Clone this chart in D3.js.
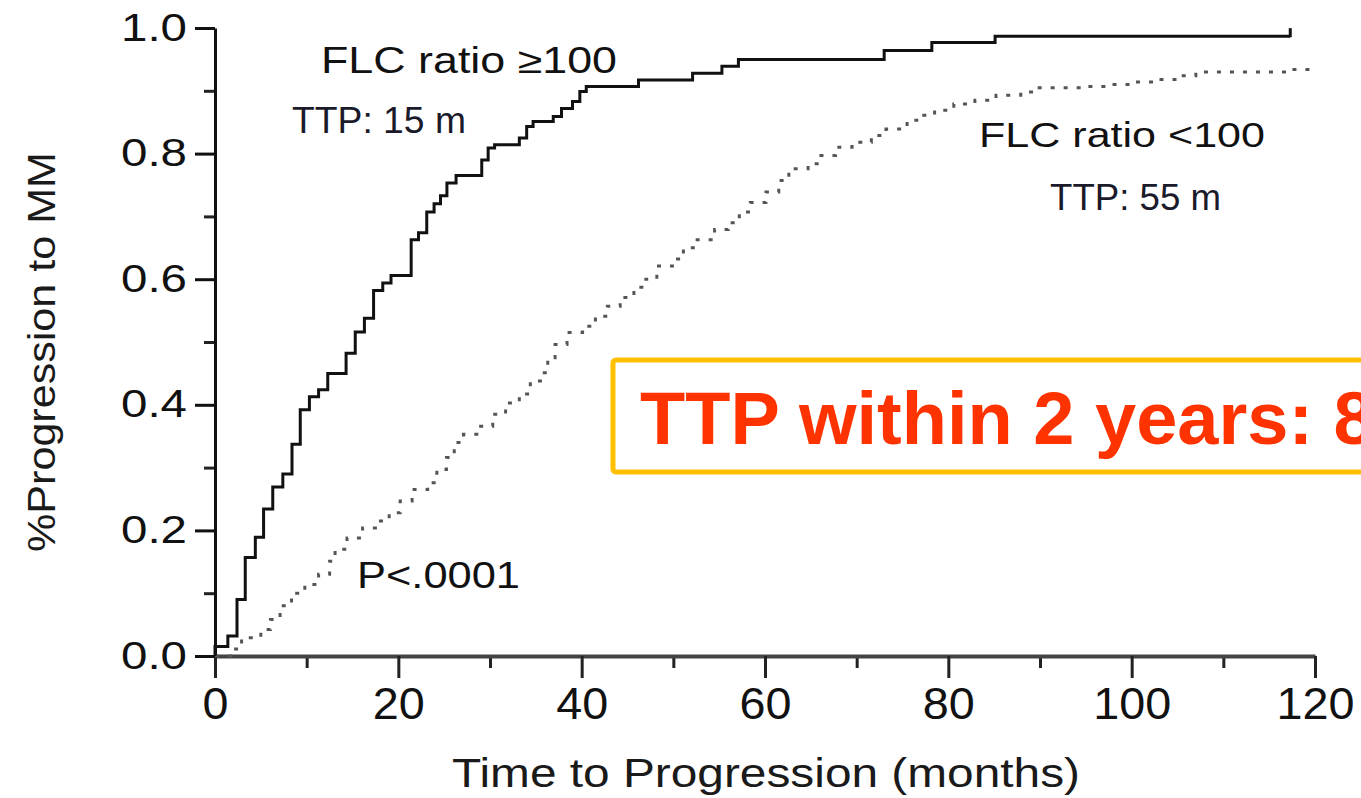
<!DOCTYPE html>
<html>
<head>
<meta charset="utf-8">
<script src="https://cdn.jsdelivr.net/npm/d3@7"></script>
<style>
  body { margin: 0; background: #fff; }
  text { font-family: "Liberation Sans", Arial, sans-serif; }
</style>
</head>
<body>
<svg id="chart" width="1361" height="798"></svg>
<script>
// FLC ratio >= 100 (solid step curve)
const highTimes = [0, 1.4, 2.4, 3.3, 4.4, 5.3, 6.3, 7.4, 8.4, 9.3, 10.3, 11.3, 12.3, 14.3, 15.3, 16.3, 17.3, 18.3, 19.2,
  21.4, 22.2, 23.1, 23.9, 24.6, 25.3, 26.3, 29.1, 29.8, 30.5, 33.2, 34.0, 34.7, 36.9, 37.8, 39.0, 39.8, 40.5,
  46.2, 52.1, 55.3, 57.1, 73.0, 78.2, 85.1, 117.3];
const highProg = [0.015, 0.032, 0.09, 0.157, 0.189, 0.234, 0.269, 0.29, 0.337, 0.392, 0.413, 0.424, 0.45, 0.482, 0.516, 0.538, 0.582, 0.594, 0.606,
  0.663, 0.674, 0.707, 0.72, 0.733, 0.753, 0.765, 0.79, 0.809, 0.814, 0.825, 0.843, 0.851, 0.859, 0.872, 0.883, 0.899, 0.907,
  0.917, 0.928, 0.939, 0.95, 0.964, 0.977, 0.987, 0.987];
const highCensor = [117.3];

// FLC ratio < 100 (dotted step curve)
const lowTimes = [0, 1.9, 2.9, 5.0, 6.05, 7.1, 8.35, 9.8, 11.3, 12.5, 13.1, 14.4, 16.1, 17.5, 19.0, 20.2, 21.5, 23.2, 24.2,
  25.25, 26.1, 27.1, 28.8, 30.3, 31.7, 33.2, 34.4, 35.7, 36.3, 37.1, 38.4, 40.1, 41.5, 42.8, 44.2, 45.7, 47.0, 48.2,
  49.9, 51.1, 52.6, 54.5, 56.0, 57.2, 58.4, 60.1, 61.5, 62.6, 64.7, 66.1, 67.7, 69.5, 71.6, 73.2, 75.5, 76.9, 78.5,
  80.6, 82.9, 85.2, 87.9, 89.7, 94.8, 97.4, 99.9, 102.4, 105.0, 107.0, 117.4, 120];
const lowProg = [0, 0.011, 0.029, 0.042, 0.058, 0.08, 0.10, 0.114, 0.13, 0.151, 0.17, 0.188, 0.204, 0.215, 0.228, 0.247, 0.265, 0.276, 0.297,
  0.316, 0.34, 0.353, 0.366, 0.385, 0.403, 0.417, 0.438, 0.451, 0.475, 0.496, 0.515, 0.525, 0.541, 0.557, 0.571, 0.587, 0.60, 0.621,
  0.632, 0.65, 0.663, 0.679, 0.69, 0.707, 0.722, 0.739, 0.757, 0.776, 0.784, 0.797, 0.81, 0.818, 0.829, 0.839, 0.853, 0.861, 0.869,
  0.879, 0.885, 0.893, 0.898, 0.905, 0.907, 0.91, 0.914, 0.918, 0.924, 0.93, 0.934, 0.935];

const xTicks = [0, 20, 40, 60, 80, 100, 120];
const xMinor = [10, 30, 50, 70, 90, 110];
const yTicks = [0, 0.2, 0.4, 0.6, 0.8, 1.0];
const yMinor = [0.1, 0.3, 0.5, 0.7, 0.9];

const svg = d3.select('#chart');
svg.append('rect').attr('width', 1361).attr('height', 798).attr('fill', '#fff');

const x = d3.scaleLinear().domain([0, 120]).range([215, 1315]);
const y = d3.scaleLinear().domain([0, 1]).range([656, 28]);

// minor ticks
svg.append('g')
  .attr('transform', 'translate(0,656)')
  .call(d3.axisBottom(x).tickValues(xMinor).tickSize(12).tickFormat(''))
  .call(g => g.select('.domain').remove())
  .call(g => g.selectAll('line').attr('stroke', '#222').attr('stroke-width', 3));

svg.append('g')
  .attr('transform', 'translate(215,0)')
  .call(d3.axisLeft(y).tickValues(yMinor).tickSize(11).tickFormat(''))
  .call(g => g.select('.domain').remove())
  .call(g => g.selectAll('line').attr('stroke', '#222').attr('stroke-width', 3));

// x axis
const xAxis = svg.append('g')
  .attr('transform', 'translate(0,656)')
  .call(d3.axisBottom(x).tickValues(xTicks).tickSize(22).tickSizeOuter(0).tickPadding(10).tickFormat(d3.format('d')));
xAxis.select('.domain').attr('stroke', '#444').attr('stroke-width', 4);
xAxis.selectAll('line').attr('stroke', '#222').attr('stroke-width', 3);
xAxis.selectAll('text')
  .attr('fill', '#111')
  .style('font-size', '44px')
  .attr('textLength', d => String(d).length * 26)
  .attr('lengthAdjust', 'spacingAndGlyphs');

// y axis
const yAxis = svg.append('g')
  .attr('transform', 'translate(215,0)')
  .call(d3.axisLeft(y).tickValues(yTicks).tickSize(20).tickSizeOuter(0).tickPadding(8).tickFormat(d3.format('.1f')));
yAxis.select('.domain').attr('stroke', '#111').attr('stroke-width', 3);
yAxis.selectAll('line').attr('stroke', '#111').attr('stroke-width', 3);
yAxis.selectAll('text')
  .attr('fill', '#111')
  .style('font-size', '38px')
  .attr('textLength', 66)
  .attr('lengthAdjust', 'spacingAndGlyphs');

// curves
const line = d3.line()
  .x(d => x(d[0]))
  .y(d => y(d[1]))
  .curve(d3.curveStepAfter);

const lowData = lowTimes.map((t, i) => [t, lowProg[i]]);
svg.append('path')
  .datum(lowData)
  .attr('fill', 'none')
  .attr('stroke', '#555')
  .attr('stroke-width', 3)
  .attr('stroke-dasharray', '4 9')
  .attr('d', line);

const highData = [[0, 0]].concat(highTimes.map((t, i) => [t, highProg[i]]));
svg.append('path')
  .datum(highData)
  .attr('fill', 'none')
  .attr('stroke', '#111')
  .attr('stroke-width', 3)
  .attr('d', line);

svg.selectAll('.censor').data(highCensor).enter().append('line')
  .attr('class', 'censor')
  .attr('x1', d => x(d)).attr('x2', d => x(d))
  .attr('y1', y(highProg[highProg.length - 1]) + 1)
  .attr('y2', y(highProg[highProg.length - 1]) - 8)
  .attr('stroke', '#111').attr('stroke-width', 3);

// annotations
function note(tx, ty, str, size, len, color) {
  svg.append('text')
    .attr('x', tx).attr('y', ty)
    .attr('fill', color || '#111')
    .style('font-size', size + 'px')
    .attr('textLength', len)
    .attr('lengthAdjust', 'spacingAndGlyphs')
    .text(str);
}
note(321, 73, 'FLC ratio \u2265100', 36, 296);
note(292, 133, 'TTP: 15 m', 36, 174, '#1a1a2a');
note(979, 147, 'FLC ratio <100', 35, 286);
note(1050, 210, 'TTP: 55 m', 37, 171, '#1a1a2a');
note(357, 588, 'P<.0001', 36, 163);

// axis titles
note(452, 787, 'Time to Progression (months)', 40, 628, '#1a1a1a');
svg.append('text')
  .attr('transform', 'translate(55,352) rotate(-90)')
  .attr('text-anchor', 'middle')
  .attr('fill', '#1a1a1a')
  .style('font-size', '39px')
  .attr('textLength', 400)
  .attr('lengthAdjust', 'spacingAndGlyphs')
  .text('%Progression to MM');

// highlight box
svg.append('rect')
  .attr('x', 613).attr('y', 360)
  .attr('width', 900).attr('height', 112)
  .attr('rx', 3)
  .attr('fill', 'none')
  .attr('stroke', '#FFC000')
  .attr('stroke-width', 5);

svg.append('text')
  .attr('x', 640).attr('y', 444)
  .attr('fill', '#FF3300')
  .style('font-size', '74px')
  .style('font-weight', 'bold')
  .text('TTP within 2 years: 8');
</script>
</body>
</html>
